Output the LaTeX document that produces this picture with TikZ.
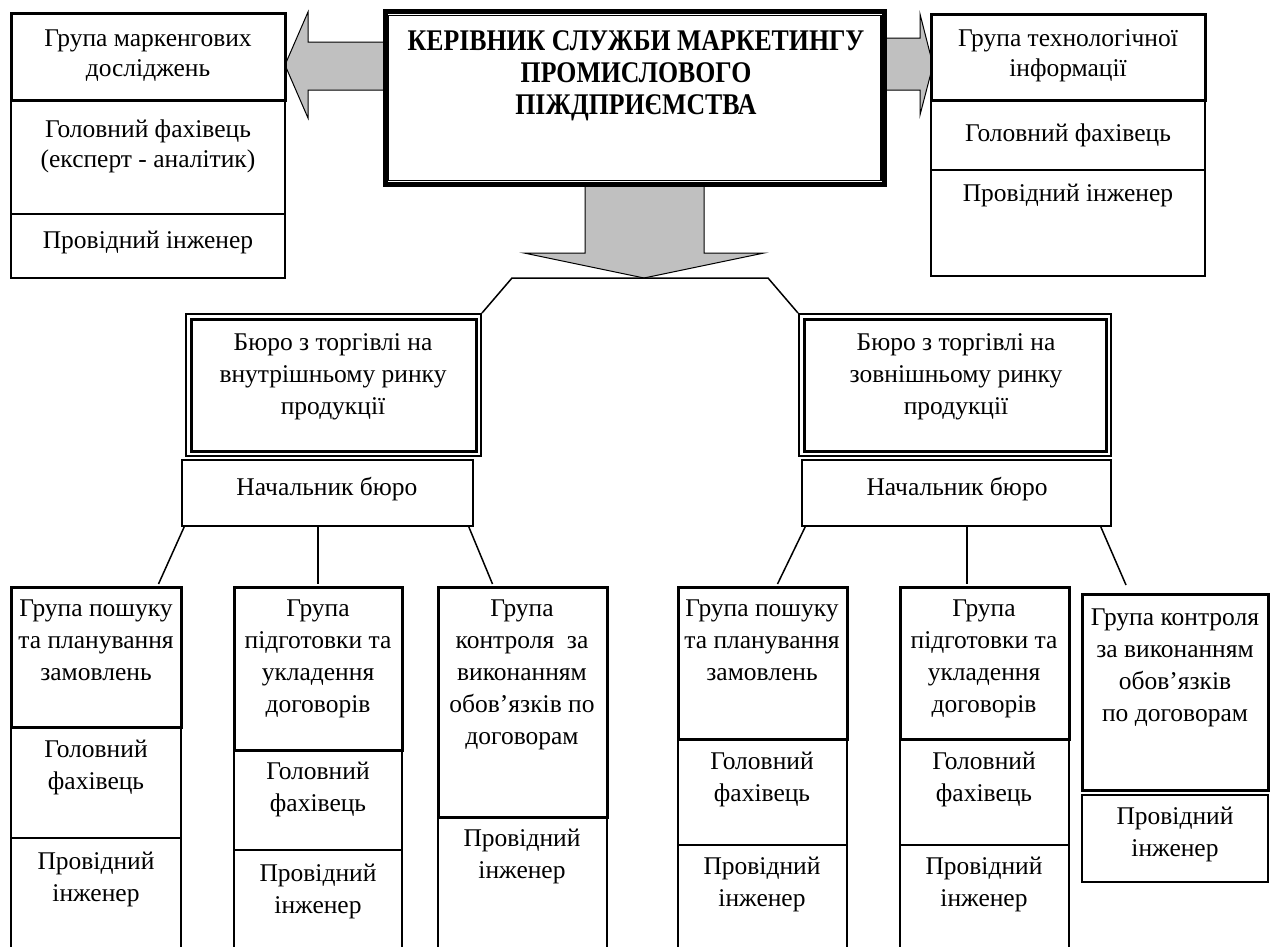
\documentclass[tikz,border=0pt]{standalone}
\usepackage{fontspec}
\setmainfont{Liberation Serif}[Ligatures=TeX]
\newfontfamily\titlefont[FakeStretch=0.86]{Liberation Serif}
\usetikzlibrary{calc}
\definecolor{arrowgray}{HTML}{C0C0C0}
\tikzset{
 thk/.style={draw, line width=3pt, fill=white, inner sep=0pt},
 thn/.style={draw, line width=1.5pt, fill=white, inner sep=0pt},
 bossbox/.style={draw, line width=5pt, fill=white, inner sep=0pt},
 bur/.style={draw, line width=2pt, fill=white, inner sep=0pt},
 txt/.style={font=\fontsize{25.5}{32}\selectfont, align=center, anchor=north, inner sep=0pt, yshift=13.5pt, execute at begin node={\rule{0pt}{22pt}}},
 txts/.style={txt, font=\fontsize{25.5}{30}\selectfont},
 ttl/.style={font=\titlefont\bfseries\fontsize{30}{32}\selectfont, align=center, anchor=north, inner sep=0pt, yshift=12.5pt, execute at begin node={\rule{0pt}{26pt}}},
 conn/.style={line width=1.5pt},
 fatarrow/.style={draw, line width=1pt, fill=arrowgray, line join=miter},
}
\newcommand\mkbox[6]{\node[#1, minimum width={#5-#3}, minimum height={#6-#4}] (#2) at ({(#3+#5)/2},{(#4+#6)/2}) {};}
\begin{document}
\begin{tikzpicture}[x=1pt,y=-1pt]
\useasboundingbox (0,0) rectangle (1273,946);
\clip (0,0) rectangle (1273,946);
\fill[white] (0,0) rectangle (1273,946);
% arrows
\draw[fatarrow] (385,42) -- (308,42) -- (308,12) -- (285,65) -- (308,118) -- (308,90) -- (385,90) -- cycle;
\draw[fatarrow] (884,38) -- (920,38) -- (920,14) -- (933,65) -- (920,115) -- (920,90) -- (884,90) -- cycle;
\draw[fatarrow] (585,186) -- (704,186) -- (704,253) -- (764,253) -- (644,278) -- (524,253) -- (585,253) -- cycle;
% main box
\mkbox{bossbox}{boss}{385}{11.5}{884.5}{184.5}
\draw[line width=1.5pt] ($(boss.north west)+(6,6.5)$) rectangle ($(boss.south east)+(-6,-6.5)$);
\node[ttl] (tboss) at (636,43) {КЕРІВНИК СЛУЖБИ МАРКЕТИНГУ\\ПРОМИСЛОВОГО\\ПІЖДПРИЄМСТВА};
% top left
\mkbox{thn}{tl2}{11}{100}{285}{214}
\mkbox{thn}{tl3}{11}{214}{285}{278}
\mkbox{thk}{tl1}{11}{13}{285}{100}
\node[txts] (ttl1) at (148,43) {Група маркенгових\\досліджень};
\node[txts] (ttl2) at (148,133) {Головний фахівець\\(експерт - аналітик)};
\node[txts] (ttl3) at (148,240) {Провідний інженер};
% top right
\mkbox{thn}{tr2}{931}{100}{1205}{170}
\mkbox{thn}{tr3}{931}{170}{1205}{276}
\mkbox{thk}{tr1}{931}{14}{1205}{100}
\node[txts] (ttr1) at (1068,43) {Група технологічної\\інформації};
\node[txts] (ttr2) at (1068,133) {Головний фахівець};
\node[txts] (ttr3) at (1068,193) {Провідний інженер};
% bureaus
\mkbox{bur}{lb}{186}{314}{481}{456}
\draw[line width=3pt] ($(lb.north west)+(6,6)$) rectangle ($(lb.south east)+(-6,-6)$);
\node[txt] (tlb) at (333,347) {Бюро з торгівлі на\\внутрішньому ринку\\продукції};
\mkbox{bur}{rb}{799}{314}{1111}{456}
\draw[line width=3pt] ($(rb.north west)+(6,6)$) rectangle ($(rb.south east)+(-6,-6)$);
\node[txt] (trb) at (956,347) {Бюро з торгівлі на\\зовнішньому ринку\\продукції};
\coordinate (hl) at (512,278);
\coordinate (hr) at (768,278);
\draw[conn] (lb.north east) -- (hl) -- (hr) -- (rb.north west);
% chiefs
\mkbox{thn}{ln}{182}{460}{473}{526}
\node[txt] (tln) at (327,487) {Начальник бюро};
\mkbox{thn}{rn}{802}{460}{1111}{526}
\node[txt] (trn) at (957,487) {Начальник бюро};
% bottom groups, left
\mkbox{thn}{A2}{11}{727}{181}{838}
\mkbox{thn}{A3}{11}{838}{181}{990}
\mkbox{thk}{A1}{11}{587}{181}{727}
\mkbox{thn}{B2}{234}{750}{402}{850}
\mkbox{thn}{B3}{234}{850}{402}{990}
\mkbox{thk}{B1}{234}{587}{402}{750}
\mkbox{thn}{C2}{438}{817}{607}{990}
\mkbox{thk}{C1}{438}{587}{607}{817}
% bottom groups, right
\mkbox{thn}{D2}{678}{739}{847}{845}
\mkbox{thn}{D3}{678}{845}{847}{990}
\mkbox{thk}{D1}{678}{587}{847}{739}
\mkbox{thn}{E2}{900}{739}{1069}{845}
\mkbox{thn}{E3}{900}{845}{1069}{990}
\mkbox{thk}{E1}{900}{587}{1069}{739}
\mkbox{thn}{F2}{1082}{795}{1268}{882}
\mkbox{thk}{F1}{1082}{594}{1268}{790}
% connectors
\draw[conn] ($(ln.south west)+(3,0)$) -- ($(A1.north west)+(149,-1.5)$);
\draw[conn] (B1.north |- ln.south) -- ($(B1.north)+(0,-1.5)$);
\draw[conn] ($(ln.south east)+(-5,0)$) -- ($(C1.north west)+(56,-1.5)$);
\draw[conn] ($(rn.south west)+(4,0)$) -- ($(D1.north west)+(101,-1.5)$);
\draw[conn] (rn.south -| 967,0) -- ($(E1.north -| 967,0)+(0,-1.5)$);
\coordinate (fe) at (1126,585);
\draw[conn] ($(rn.south east)+(-11,0)$) -- (fe);
% texts
\node[txt] (tA1) at (96,613) {Група пошуку\\та планування\\замовлень};
\node[txt] (tA2) at (96,753) {Головний\\фахівець};
\node[txt] (tA3) at (96,865) {Провідний\\інженер};
\node[txt] (tB1) at (318,613) {Група\\підготовки та\\укладення\\договорів};
\node[txt] (tB2) at (318,775) {Головний\\фахівець};
\node[txt] (tB3) at (318,877) {Провідний\\інженер};
\node[txt] (tC1) at (522,613) {Група\\контроля\ \ за\\виконанням\\обов’язків по\\договорам};
\node[txt] (tC2) at (522,842) {Провідний\\інженер};
\node[txt] (tD1) at (762,613) {Група пошуку\\та планування\\замовлень};
\node[txt] (tD2) at (762,765) {Головний\\фахівець};
\node[txt] (tD3) at (762,870) {Провідний\\інженер};
\node[txt] (tE1) at (984,613) {Група\\підготовки та\\укладення\\договорів};
\node[txt] (tE2) at (984,765) {Головний\\фахівець};
\node[txt] (tE3) at (984,870) {Провідний\\інженер};
\node[txt] (tF1) at (1175,622) {Група контроля\\за виконанням\\обов’язків\\по договорам};
\node[txt] (tF2) at (1175,820) {Провідний\\інженер};
\end{tikzpicture}
\end{document}
